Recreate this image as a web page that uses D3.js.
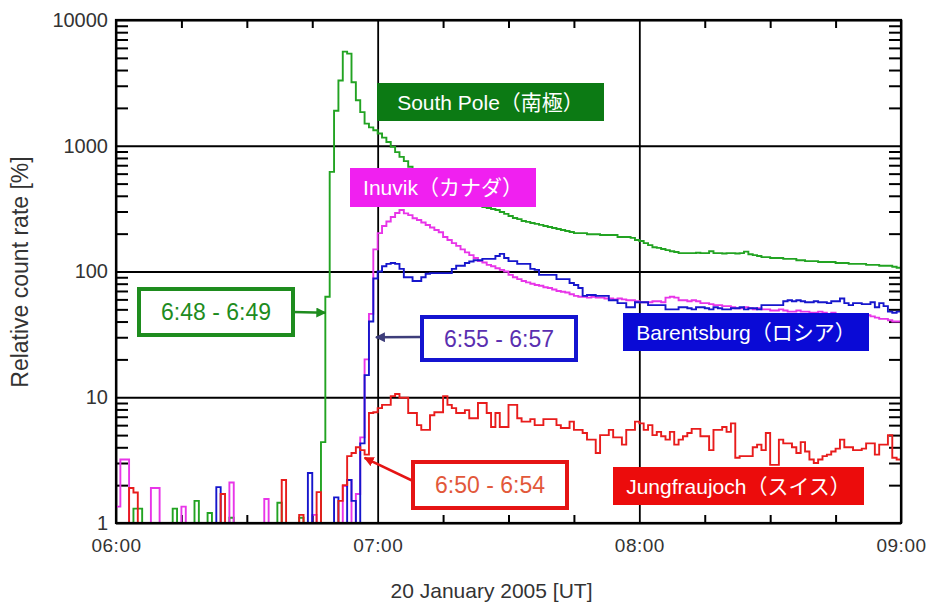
<!DOCTYPE html>
<html>
<head>
<meta charset="utf-8">
<script src="https://cdn.jsdelivr.net/npm/d3@7"></script>
<style>
  body { margin: 0; background: #fff; }
  text { font-family: "Liberation Sans", Arial, "Noto Sans CJK JP", sans-serif; }
</style>
</head>
<body>
<svg id="chart" width="927" height="606"></svg>
<script>
'use strict';

/*global d3 */

// Relative count rate [%], one value per minute starting 06:00 UT
// (1 = at or below the bottom of the plot)
var southPole = [
  1, 1, 1, 1, 1.3, 1.3, 1, 1, 1, 1,
  1, 1, 1, 1.3, 1, 1, 1, 1, 1.5, 1,
  1, 1.2, 1, 1, 1, 1, 1.1, 1, 1, 1,
  1, 1, 1, 1, 1, 1, 1, 1.45, 1, 1,
  1, 1, 1.1, 1, 1, 1, 1, 4.4, 63, 620,
  1900, 3300, 5600, 5400, 3200, 2300, 1850, 1500, 1400, 1330,
  1250, 1160, 1070, 980, 890, 815, 755, 680, 640, 607,
  575, 545, 514, 488, 470, 445, 428, 413, 398, 384,
  370, 357, 344, 338, 326, 320, 314, 308, 297, 287,
  276, 266, 261, 252, 248, 243, 239, 235, 230, 226,
  222, 218, 214, 210, 206, 202, 202, 202, 198, 198,
  198, 195, 195, 195, 195, 188, 188, 188, 185, 178,
  175, 168, 162, 156, 154, 151, 148, 145, 143, 140,
  140, 140, 140, 141, 140, 140, 145, 140, 140, 139,
  140, 140, 139, 140, 144, 137, 135, 133, 130, 130,
  128, 128, 128, 126, 126, 126, 123, 123, 121, 121,
  121, 119, 119, 119, 119, 117, 117, 117, 115, 115,
  115, 115, 113, 113, 113, 111, 111, 111, 109, 107
];

var inuvik = [
  1.35, 3.2, 3.2, 1, 1, 1, 1, 1, 1.9, 1.9,
  1, 1, 1, 1, 1, 1.35, 1, 1, 1, 1,
  1, 1, 1, 1, 1, 1, 2.1, 1, 1, 1,
  1, 1, 1, 1, 1.55, 1, 1, 1, 1, 1,
  1, 1, 1, 1, 1, 1.16, 1, 1, 1, 1,
  1, 1, 1.97, 2.2, 1, 1.7, 4.8, 20, 46, 150,
  202, 230, 250, 271, 292, 308, 290, 281, 265, 257,
  245, 234, 224, 214, 205, 188, 178, 168, 160, 150,
  142, 135, 128, 121, 118, 113, 110, 106, 103, 100,
  94, 90, 87, 84, 82, 80, 78, 77, 75, 74,
  72, 70, 69, 68, 66, 64, 63, 63, 62, 63,
  62, 62, 61, 61, 60, 61, 60, 59, 59, 58,
  57, 57, 57, 58, 58, 57, 62, 63, 62, 59,
  59, 58, 59, 58, 56, 56, 55, 54, 54, 53,
  53, 52, 51, 51, 52, 51, 50, 51, 50, 50,
  49, 49, 50, 49, 48, 48, 49, 48, 48, 47,
  47, 48, 47, 46, 47, 46, 46, 45, 45, 46,
  45, 44, 45, 44, 43, 42, 42, 41, 40, 40
];

var barentsburg = [
  1, 1, 1, 1, 1, 1, 1, 1, 1, 1,
  1, 1, 1, 1, 1, 1, 1, 1, 1, 1,
  1, 1, 1, 1.93, 1, 1, 1, 1, 1, 1,
  1, 1, 1, 1, 1, 1, 1, 1, 1, 1,
  1, 1, 1, 1, 2.5, 1, 1, 1, 1, 1,
  1.6, 1, 1, 2.2, 1.5, 1, 4.3, 15, 40, 88,
  100, 110, 115, 117, 115, 105, 90, 90, 84, 84,
  90, 96, 97, 97, 97, 97, 97, 105, 111, 111,
  117, 120, 123, 123, 126, 126, 126, 133, 138, 128,
  121, 121, 115, 115, 115, 105, 103, 94, 94, 94,
  94, 87, 87, 87, 81, 78, 74, 64, 65, 65,
  64, 64, 64, 59, 59, 56, 56, 52, 52, 57,
  57, 57, 54, 54, 54, 54, 50, 50, 50, 52,
  52, 51, 50, 52, 52, 51, 50, 52, 51, 50,
  50, 51, 51, 52, 50, 51, 51, 50, 54, 54,
  54, 54, 54, 58, 59, 58, 59, 58, 57, 57,
  58, 57, 57, 56, 58, 58, 61, 56, 54, 56,
  56, 55, 55, 57, 52, 56, 53, 48, 47, 48
];

var jungfraujoch = [
  1, 1, 1, 1.9, 1.75, 1, 1, 1, 1, 1,
  1, 1, 1, 1, 1, 1, 1, 1, 1, 1,
  1, 1, 1, 1, 1.7, 1, 1, 1, 1, 1,
  1, 1, 1, 1, 1, 1, 1, 1, 2.2, 1,
  1, 1, 1.16, 1, 1, 1, 1.76, 1, 1, 1,
  1, 1.5, 2.0, 3.4, 3.6, 4.0, 3.8, 3.5, 7.5, 7.6,
  8.2, 8.7, 8.7, 10.2, 10.6, 9.9, 9.9, 7.5, 7.5, 6.0,
  5.5, 5.5, 7.2, 7.6, 7.6, 10.2, 8.7, 8.2, 7.5, 7.5,
  7.9, 6.8, 6.8, 9.0, 9.0, 7.5, 5.8, 7.5, 5.8, 5.8,
  8.7, 8.7, 6.8, 6.4, 6.4, 6.7, 6.0, 6.0, 6.7, 6.7,
  6.7, 6.0, 5.7, 5.7, 6.4, 5.5, 5.5, 5.2, 4.6, 4.6,
  3.6, 5.0, 5.0, 5.5, 4.8, 4.8, 4.2, 5.5, 5.5, 6.4,
  6.2, 5.5, 6.0, 5.0, 5.3, 4.9, 4.6, 5.3, 4.2, 4.6,
  4.9, 5.2, 5.6, 5.6, 4.9, 4.9, 3.8, 5.5, 5.5, 5.8,
  5.3, 6.2, 3.3, 3.4, 3.4, 3.4, 4.0, 4.2, 3.8, 5.2,
  2.9, 2.9, 4.6, 4.3, 4.3, 4.0, 3.6, 4.4, 3.7, 3.2,
  3.0, 3.2, 3.4, 3.5, 3.7, 3.9, 4.6, 4.0, 4.0, 3.8,
  3.8, 3.9, 4.3, 4.3, 3.5, 4.2, 4.2, 5.0, 3.3, 3.2
];

var stationNames = ['South Pole（南極）', 'Inuvik（カナダ）', 'Barentsburg（ロシア）', 'Jungfraujoch（スイス）'];
var onsetLabels = ['6:48 - 6:49', '6:55 - 6:57', '6:50 - 6:54'];
var yTickValues = [1, 10, 100, 1000, 10000];
var xTickHours = [6, 7, 8, 9];

var start = Date.UTC(2005, 0, 20, 6, 0);
function minute(m) { return new Date(start + m * 60000); }

var margin = {top: 20, right: 26, bottom: 83, left: 116};
var width = 927 - margin.left - margin.right;
var height = 606 - margin.top - margin.bottom;

var x = d3.scaleUtc().domain([minute(0), minute(180)]).range([0, width]);
var y = d3.scaleLog().domain([1, 10000]).range([height, 0]);

var svg = d3.select('#chart');

var defs = svg.append('defs');
defs.append('clipPath').attr('id', 'plot-clip')
  .append('rect').attr('width', width).attr('height', height);

// arrow heads
[['arrow-green', '#1e8c1e'], ['arrow-blue', '#3d3d7a'], ['arrow-red', '#e51414']].forEach(function (a) {
  defs.append('marker')
    .attr('id', a[0])
    .attr('viewBox', '0 0 10 10')
    .attr('refX', 9).attr('refY', 5)
    .attr('markerWidth', 4).attr('markerHeight', 4)
    .attr('orient', 'auto')
    .append('path').attr('d', 'M0,0L10,5L0,10z').attr('fill', a[1]);
});

var g = svg.append('g').attr('transform', 'translate(' + margin.left + ',' + margin.top + ')');

// minor ticks
var minorY = [];
[1, 10, 100, 1000].forEach(function (d) {
  for (var k = 2; k <= 9; k++) { minorY.push(d * k); }
});
var minorX = d3.range(15, 180, 15).filter(function (m) { return m % 60 !== 0; }).map(minute);

function styleTicks(sel) {
  sel.select('.domain').remove();
  sel.selectAll('line').attr('stroke', '#000').attr('stroke-width', 2);
}

g.append('g').call(d3.axisLeft(y).tickValues(minorY).tickSize(-12).tickFormat('')).call(styleTicks);
g.append('g').attr('transform', 'translate(' + width + ',0)')
  .call(d3.axisRight(y).tickValues(minorY).tickSize(-12).tickFormat('')).call(styleTicks);
g.append('g').attr('transform', 'translate(0,' + height + ')')
  .call(d3.axisBottom(x).tickValues(minorX).tickSize(-8).tickFormat('')).call(styleTicks);
g.append('g')
  .call(d3.axisTop(x).tickValues(minorX).tickSize(-8).tickFormat('')).call(styleTicks);

// major grid lines
g.append('g')
  .call(d3.axisLeft(y).tickValues(yTickValues).tickSize(-width).tickFormat(''))
  .call(function (sel) {
    sel.select('.domain').remove();
    sel.selectAll('line').attr('stroke', '#000').attr('stroke-width', 1.8);
  });
g.append('g').attr('transform', 'translate(0,' + height + ')')
  .call(d3.axisBottom(x).tickValues(xTickHours.map(function (h) { return minute((h - 6) * 60); }))
    .tickSize(-height).tickFormat(''))
  .call(function (sel) {
    sel.select('.domain').remove();
    sel.selectAll('line').attr('stroke', '#000').attr('stroke-width', 1.8);
  });

// tick labels
g.append('g')
  .call(d3.axisLeft(y).tickValues(yTickValues).tickSize(0).tickPadding(8).tickFormat(d3.format('d')))
  .call(function (sel) {
    sel.select('.domain').remove();
    sel.selectAll('text').attr('font-size', 20).attr('fill', '#333')
      .attr('font-family', '"Liberation Sans", Arial, sans-serif');
  });
g.append('g').attr('transform', 'translate(0,' + height + ')')
  .call(d3.axisBottom(x).tickValues(xTickHours.map(function (h) { return minute((h - 6) * 60); }))
    .tickSize(0).tickPadding(16).tickFormat(d3.utcFormat('%H:%M')))
  .call(function (sel) {
    sel.select('.domain').remove();
    sel.selectAll('text').attr('font-size', 19).attr('fill', '#333')
      .attr('letter-spacing', 0.5)
      .attr('font-family', '"Liberation Sans", Arial, sans-serif');
  });

// step lines
var stepLine = d3.line()
  .x(function (d) { return x(minute(d.t)); })
  .y(function (d) { return y(Math.max(1, d.v)); })
  .curve(d3.curveStepAfter);

function steps(values) {
  var pts = values.map(function (v, i) { return {t: i, v: v}; });
  pts.push({t: values.length, v: values[values.length - 1]});
  return pts;
}

var series = [
  {values: southPole, color: '#22a322'},
  {values: inuvik, color: '#e835e8'},
  {values: barentsburg, color: '#1616cc'},
  {values: jungfraujoch, color: '#e81c1c'}
];

g.append('g').attr('clip-path', 'url(#plot-clip)')
  .selectAll('path')
  .data(series)
  .enter()
  .append('path')
  .attr('d', function (d) { return stepLine(steps(d.values)); })
  .attr('fill', 'none')
  .attr('stroke', function (d) { return d.color; })
  .attr('stroke-width', 1.9);

// frame
g.append('rect').attr('width', width).attr('height', height)
  .attr('fill', 'none').attr('stroke', '#000').attr('stroke-width', 2.2);

// station labels (filled boxes)
var stationBoxes = [
  {x: 377, y: 83, w: 227, h: 38, fill: '#0c7a14'},
  {x: 350, y: 168, w: 186, h: 39, fill: '#f020f0'},
  {x: 623, y: 313, w: 246, h: 38, fill: '#0a0ad6'},
  {x: 613, y: 467, w: 251, h: 38, fill: '#ec0c0c'}
];
stationBoxes.forEach(function (b, i) {
  svg.append('rect').attr('x', b.x).attr('y', b.y).attr('width', b.w).attr('height', b.h)
    .attr('fill', b.fill);
  svg.append('text').attr('x', b.x + b.w / 2).attr('y', b.y + b.h / 2).attr('dy', '0.36em')
    .attr('text-anchor', 'middle').attr('font-size', 21).attr('fill', '#fff')
    .text(stationNames[i]);
});

// onset boxes with arrows (arrow tips anchored to the data scales)
var onsets = [
  {x: 139, y: 289, w: 154, h: 46, stroke: '#1e8c1e', text: '#1e8c1e', arrow: '#1e8c1e', marker: 'arrow-green',
    from: [293, 312], tip: [48, 47]},
  {x: 422, y: 317, w: 154, h: 43, stroke: '#1414d0', text: '#5a2fb0', arrow: '#3d3d7a', marker: 'arrow-blue',
    from: [422, 337], tip: [59.6, 30]},
  {x: 413, y: 462, w: 154, h: 46, stroke: '#e51414', text: '#e2583a', arrow: '#e51414', marker: 'arrow-red',
    from: [413, 481], tip: [57, 3.3]}
];
onsets.forEach(function (o, i) {
  svg.append('line')
    .attr('x1', o.from[0]).attr('y1', o.from[1])
    .attr('x2', margin.left + x(minute(o.tip[0])))
    .attr('y2', margin.top + y(o.tip[1]))
    .attr('stroke', o.arrow)
    .attr('stroke-width', 2.5)
    .attr('marker-end', 'url(#' + o.marker + ')');
  svg.append('rect').attr('x', o.x).attr('y', o.y).attr('width', o.w).attr('height', o.h)
    .attr('fill', '#fff').attr('stroke', o.stroke).attr('stroke-width', 4);
  svg.append('text').attr('x', o.x + o.w / 2).attr('y', o.y + o.h / 2).attr('dy', '0.36em')
    .attr('text-anchor', 'middle').attr('font-size', 23).attr('fill', o.text)
    .text(onsetLabels[i]);
});

// axis titles
svg.append('text')
  .attr('x', margin.left + width / 2 - 17).attr('y', 598)
  .attr('text-anchor', 'middle').attr('font-size', 21).attr('fill', '#333')
  .text('20 January 2005 [UT]');
svg.append('text')
  .attr('transform', 'translate(28,' + 272 + ') rotate(-90)')
  .attr('text-anchor', 'middle').attr('font-size', 23).attr('fill', '#333')
  .text('Relative count rate  [%]');
</script>
</body>
</html>
